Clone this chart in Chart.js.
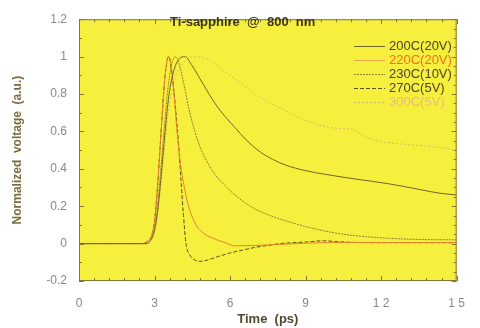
<!DOCTYPE html>
<html>
<head>
<meta charset="utf-8">
<script src="https://cdn.jsdelivr.net/npm/chart.js@4"></script>
<style>
  html, body { margin: 0; padding: 0; background: #fff; }
  #wrap { width: 480px; height: 328px; }
</style>
</head>
<body>
<div id="wrap"><canvas id="pulseChart" width="480" height="328"></canvas></div>
<script>
// ─── DATA (time in ps, normalized voltage) ─────────────────
const t200 = [0, 2.7, 2.8, 2.9, 3.0, 3.1, 3.2, 3.3, 3.4, 3.5, 3.6, 3.8, 4.0, 4.2, 4.5, 4.9, 5.4, 5.8, 6.2, 6.6, 7.2, 7.7, 8.2, 9.0, 9.8, 11.0, 12.3, 13.5, 14.3, 15];
const v200 = [0, 0, 0.01, 0.03, 0.07, 0.15, 0.27, 0.42, 0.57, 0.71, 0.82, 0.94, 0.99, 1.0, 0.95, 0.86, 0.75, 0.68, 0.62, 0.56, 0.49, 0.45, 0.42, 0.39, 0.37, 0.345, 0.32, 0.29, 0.27, 0.26];

const t220 = [0, 2.5, 2.7, 2.8, 2.9, 3.0, 3.1, 3.2, 3.3, 3.4, 3.5, 3.57, 3.65, 3.75, 3.88, 4.0, 4.2, 4.4, 4.65, 4.9, 5.3, 5.8, 6.2, 7.0, 8.0, 9.0, 10.0, 12.0, 15];
const v220 = [0, 0, 0.01, 0.02, 0.05, 0.12, 0.27, 0.47, 0.68, 0.87, 0.98, 1.0, 0.96, 0.84, 0.62, 0.46, 0.29, 0.18, 0.1, 0.06, 0.03, 0.005, -0.012, -0.01, -0.004, 0.002, 0.006, 0.006, 0.005];

const t230 = [0, 2.7, 2.8, 2.9, 3.0, 3.1, 3.2, 3.3, 3.4, 3.5, 3.6, 3.7, 3.85, 4.0, 4.2, 4.4, 4.6, 4.8, 5.0, 5.4, 5.8, 6.2, 6.8, 7.5, 8.5, 9.5, 10.5, 11.5, 12.5, 13.6, 15];
const v230 = [0, 0, 0.01, 0.03, 0.08, 0.18, 0.32, 0.48, 0.64, 0.79, 0.9, 0.97, 1.0, 0.95, 0.83, 0.7, 0.6, 0.52, 0.46, 0.37, 0.31, 0.26, 0.2, 0.155, 0.11, 0.075, 0.05, 0.036, 0.027, 0.022, 0.02];

const t270 = [0, 2.5, 2.7, 2.8, 2.9, 3.0, 3.1, 3.2, 3.3, 3.4, 3.5, 3.57, 3.65, 3.75, 3.85, 3.95, 4.05, 4.15, 4.25, 4.4, 4.6, 4.8, 5.1, 5.5, 6.0, 6.5, 7.0, 7.5, 8.0, 8.5, 9.0, 9.7, 10.3, 11, 12, 15];
const v270 = [0, 0, 0.01, 0.02, 0.05, 0.12, 0.27, 0.47, 0.68, 0.87, 0.98, 1.0, 0.95, 0.84, 0.7, 0.54, 0.34, 0.15, 0.0, -0.06, -0.088, -0.095, -0.088, -0.07, -0.05, -0.035, -0.02, -0.01, 0, 0.005, 0.008, 0.015, 0.01, 0.006, 0.005, 0.005];

const t300 = [0, 2.7, 2.8, 2.9, 3.0, 3.1, 3.2, 3.3, 3.4, 3.5, 3.6, 3.8, 4.1, 4.6, 5.2, 5.8, 6.4, 7.0, 7.5, 8.2, 8.8, 9.4, 10.0, 10.5, 10.9, 11.3, 12.0, 13.0, 13.9, 14.5, 15];
const v300 = [0, 0, 0.01, 0.03, 0.07, 0.14, 0.25, 0.38, 0.52, 0.65, 0.75, 0.88, 0.96, 1.0, 0.98, 0.92, 0.86, 0.8, 0.76, 0.71, 0.67, 0.64, 0.62, 0.615, 0.61, 0.575, 0.545, 0.53, 0.52, 0.51, 0.5];

const xTicks      = [0, 3, 6, 9, 12, 15];
const xTickLabels = ['0', '3', '6', '9', '1 2', '1 5'];
const yTicks      = [-0.2, 0, 0.2, 0.4, 0.6, 0.8, 1, 1.2];
const yTickLabels = ['-0.2', '0', '0.2', '0.4', '0.6', '0.8', '1', '1.2'];

const PLOT_BG = '#f7ef3e';
const FRAME   = '#857634';
const FONT    = "'Liberation Sans', Arial, sans-serif";

const pts = (t, v) => t.map((x, i) => ({ x, y: v[i] }));

// ─── DECOR: plot background, inner ticks, title, legend ───
const decor = {
  id: 'decor',
  beforeDraw(chart) {
    const { ctx, chartArea: a } = chart;
    ctx.save();
    ctx.fillStyle = PLOT_BG;
    ctx.fillRect(a.left, a.top, a.width, a.height);
    ctx.restore();
  },
  afterDatasetsDraw(chart) {
    const { ctx, chartArea: a, scales: { x, y } } = chart;
    ctx.save();
    ctx.strokeStyle = FRAME;
    ctx.lineWidth = 1;
    ctx.strokeRect(a.left + 0.5, a.top + 0.5, a.width - 1, a.height - 1);

    ctx.beginPath();
    for (let i = 0; i <= 25; i++) {           // 0.6 ps minor steps
      const px = Math.round(x.getPixelForValue(i * 0.6)) + 0.5;
      const len = i % 5 === 0 ? 5 : 3;
      ctx.moveTo(px, a.bottom); ctx.lineTo(px, a.bottom - len);
      ctx.moveTo(px, a.top);    ctx.lineTo(px, a.top + len);
    }
    for (let i = 0; i <= 28; i++) {           // 0.05 steps
      const py = Math.round(y.getPixelForValue(-0.2 + i * 0.05)) + 0.5;
      const len = i % 4 === 0 ? 5 : 3;
      if (i % 2 === 0) { ctx.moveTo(a.left, py); ctx.lineTo(a.left + len, py); }
      ctx.moveTo(a.right, py); ctx.lineTo(a.right - len, py);
    }
    ctx.stroke();

    // title inside plot
    ctx.fillStyle = '#3b3620';
    ctx.font = `bold 13px ${FONT}`;
    ctx.textBaseline = 'middle';
    ctx.textAlign = 'left';
    ctx.fillText('Ti-sapphire  @  800  nm', 170, 22);

    // legend
    ctx.font = `13px ${FONT}`;
    chart.data.datasets.forEach((ds, i) => {
      const ly = 46 + i * 14;
      ctx.strokeStyle = ds.legendLine || ds.borderColor;
      ctx.setLineDash(ds.borderDash || []);
      ctx.beginPath();
      ctx.moveTo(354, ly + 0.5);
      ctx.lineTo(385, ly + 0.5);
      ctx.stroke();
      ctx.setLineDash([]);
      ctx.fillStyle = ds.textColor;
      ctx.fillText(ds.label, 389, ly);
    });
    ctx.restore();
  }
};

const lineDefaults = { borderWidth: 1, pointRadius: 0, fill: false, cubicInterpolationMode: 'monotone' };

new Chart(document.getElementById('pulseChart'), {
  type: 'line',
  data: {
    datasets: [
      { ...lineDefaults, label: '200C(20V)', data: pts(t200, v200), borderColor: '#736428', textColor: '#4a452e' },
      { ...lineDefaults, label: '220C(20V)', data: pts(t220, v220), borderColor: '#e2862a', legendLine: '#e8aa4c', textColor: '#f0701e' },
      { ...lineDefaults, label: '230C(10V)', data: pts(t230, v230), borderColor: '#918130', borderDash: [2, 1], textColor: '#4a452e' },
      { ...lineDefaults, label: '270C(5V)',  data: pts(t270, v270), borderColor: '#5e4f1a', borderDash: [4, 2], textColor: '#4a452e' },
      { ...lineDefaults, label: '300C(5V)',  data: pts(t300, v300), borderColor: '#dab86a', borderDash: [2, 2], textColor: '#e4bc7c' },
    ],
  },
  options: {
    responsive: false,
    animation: false,
    devicePixelRatio: 1,
    layout: { padding: { top: 10, right: 11, left: 0, bottom: 0 } },
    plugins: { legend: { display: false }, tooltip: { enabled: false } },
    scales: {
      x: {
        type: 'linear', min: 0, max: 15,
        afterFit: s => { s.height = 47; },
        afterBuildTicks: s => { s.ticks = xTicks.map(v => ({ value: v })); },
        grid: { display: false, drawTicks: false },
        border: { display: false },
        ticks: { padding: 15, color: '#8a8a80', font: { family: FONT, size: 12 }, callback: (v, i) => xTickLabels[i] },
        title: { display: true, text: 'Time  (ps)', color: '#4e4830', font: { family: FONT, size: 13, weight: 'bold' }, padding: { top: 1, bottom: 1 } },
      },
      y: {
        min: -0.2, max: 1.2,
        afterFit: s => { s.width = 79; },
        afterBuildTicks: s => { s.ticks = yTicks.map(v => ({ value: v })); },
        grid: { display: false, drawTicks: false },
        border: { display: false },
        ticks: { padding: 12, color: '#8a8a80', font: { family: FONT, size: 12 }, callback: (v, i) => yTickLabels[i] },
        title: { display: true, text: 'Normalized  voltage  (a.u.)', color: '#7a6c40', font: { family: FONT, size: 12, weight: 'bold' }, padding: { top: 10, bottom: 10 } },
      },
    },
  },
  plugins: [decor],
});
</script>
</body>
</html>
